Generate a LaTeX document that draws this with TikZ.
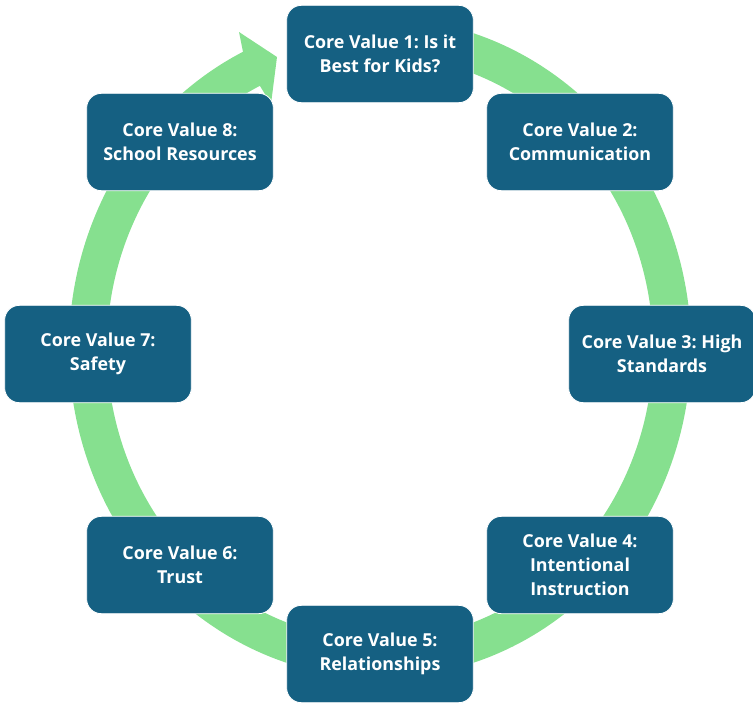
\documentclass[tikz,border=0pt]{standalone}
\usepackage{fontspec}
\setmainfont{Open Sans}
\usepackage{tikz}

\definecolor{valueblue}{HTML}{156082}
\definecolor{ringgreen}{HTML}{86E08F}

\begin{document}
\begin{tikzpicture}[x=0.75pt,y=-0.75pt,
	value/.style={draw=white,line width=0.6pt,fill=valueblue,rounded corners=11pt,
		minimum width=140pt,minimum height=73pt,align=center,text=white,
		font=\frenchspacing\bfseries\fontsize{13.4}{18}\selectfont}]
				\useasboundingbox (0,0) rectangle (753,704);
				% the ring, open where the head sits
				\draw[ringgreen,line width=28.5pt] (380,348) ++(255:292 and 311)
					arc[start angle=255,end angle=604.3,x radius=292,y radius=311];
				% its head, pointing at value 1
				\fill[ringgreen] (243,52) -- (239,32) -- (277,57) -- (271,104) -- (260,86) -- cycle;
				% the eight values, clockwise from the top
				\node[value] (cv1) at (380,54) {Core Value 1: Is it\\Best for Kids?};
				\node[value] (cv2) at (580,142) {Core Value 2:\\Communication};
				\node[value] (cv3) at (662,354) {Core Value 3: High\\Standards};
				\node[value] (cv4) at (580,565) {Core Value 4:\\Intentional\\Instruction};
				\node[value] (cv5) at (380,654) {Core Value 5:\\Relationships};
				\node[value] (cv6) at (180,565) {Core Value 6:\\Trust};
				\node[value] (cv7) at (98,354) {Core Value 7:\\Safety};
				\node[value] (cv8) at (180,142) {Core Value 8:\\School Resources};
\end{tikzpicture}
\end{document}
